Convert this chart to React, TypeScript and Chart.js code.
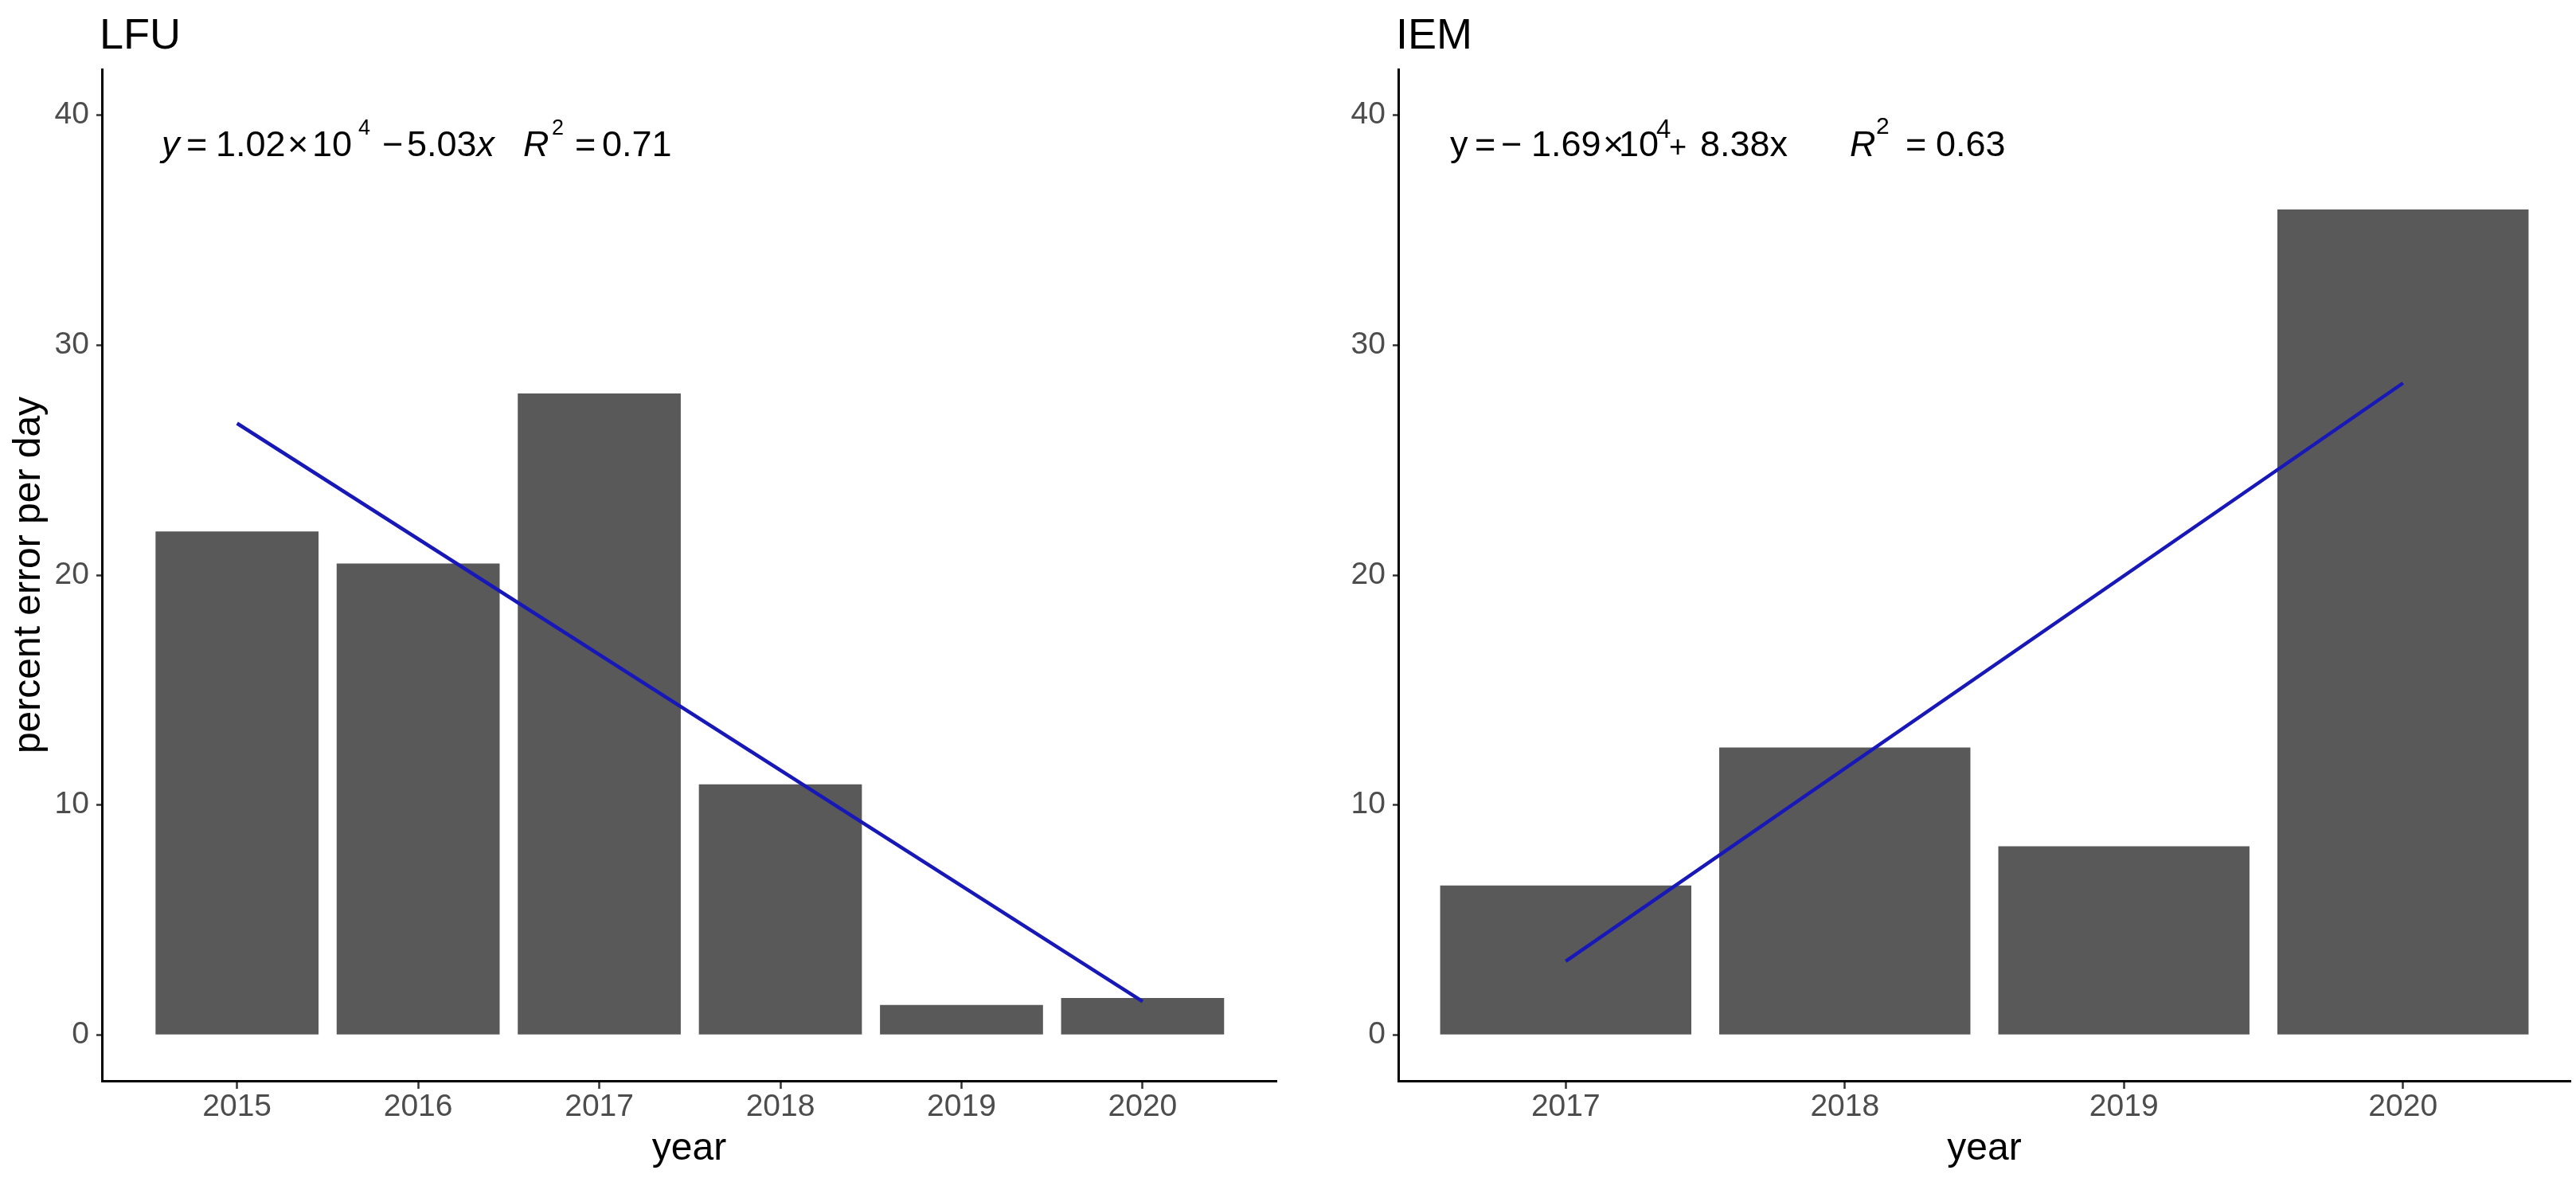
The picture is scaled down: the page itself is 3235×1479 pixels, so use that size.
import React, { useEffect, useRef } from 'react';
import { Chart, registerables } from 'chart.js';

Chart.register(...registerables);

const FONT = '"Liberation Sans", Arial, Helvetica, sans-serif';
const BAR_COLOR = '#595959';
const LINE_COLOR = '#1818B8';

// ---- data ----
const lfuYears = [2015, 2016, 2017, 2018, 2019, 2020];
const lfuValues = [21.9, 20.5, 27.9, 10.9, 1.3, 1.6];
const lfuFitYears = [2015, 2020];
const lfuFitValues = [26.6, 1.45];

const iemYears = [2017, 2018, 2019, 2020];
const iemValues = [6.5, 12.5, 8.2, 35.9];
const iemFitYears = [2017, 2020];
const iemFitValues = [3.2, 28.35];

const yTickValues = [0, 10, 20, 30, 40];
const yAxisTitle = 'percent error per day';
const xAxisTitle = 'year';

type Seg = { t: string; x?: number; y?: number; size?: number; it?: boolean };

const lfuEquation: Seg[] = [
  { t: 'y', x: 203, it: true },
  { t: '=', x: 234 },
  { t: '1.02', x: 271 },
  { t: '×', x: 361 },
  { t: '10', x: 392 },
  { t: '4', x: 450, size: 27, y: 169 },
  { t: '−', x: 480 },
  { t: '5.03', x: 511 },
  { t: 'x', it: true },
  { t: 'R', x: 657, it: true },
  { t: '2', x: 693, size: 27, y: 169 },
  { t: '=', x: 722 },
  { t: '0.71', x: 756 },
];

const iemEquation: Seg[] = [
  { t: 'y', x: 1821 },
  { t: '=', x: 1852 },
  { t: '−', x: 1885 },
  { t: '1.69', x: 1923 },
  { t: '×', x: 2013 },
  { t: '10', x: 2033 },
  { t: '4', x: 2080, size: 33, y: 173 },
  { t: '+', x: 2096, size: 38, y: 197 },
  { t: '8.38', x: 2135 },
  { t: 'x' },
  { t: 'R', x: 2323, it: true },
  { t: '2', x: 2356, size: 30, y: 168 },
  { t: '=', x: 2393 },
  { t: '0.63', x: 2431 },
];

type PanelSpec = {
  name: string;
  title: string;
  years: number[];
  values: number[];
  fitYears: number[];
  fitValues: number[];
  xMin: number;
  xMax: number;
  canvasLeft: number;
  canvasWidth: number;
  yAxisWidth: number;
  padRight: number;
  equation: Seg[];
  showYTitle: boolean;
};

const CANVAS_H = 1479;
const PAD_TOP = 87;
const X_AXIS_H = 122;

const panels: PanelSpec[] = [
  {
    name: 'lfu',
    title: 'LFU',
    years: lfuYears,
    values: lfuValues,
    fitYears: lfuFitYears,
    fitValues: lfuFitValues,
    xMin: 2015 - 0.746,
    xMax: 2020 + 0.739,
    canvasLeft: 0,
    canvasWidth: 1650,
    yAxisWidth: 128,
    padRight: 47,
    equation: lfuEquation,
    showYTitle: true,
  },
  {
    name: 'iem',
    title: 'IEM',
    years: iemYears,
    values: iemValues,
    fitYears: iemFitYears,
    fitValues: iemFitValues,
    xMin: 2017 - 0.6,
    xMax: 2020 + 0.6,
    canvasLeft: 1650,
    canvasWidth: 1585,
    yAxisWidth: 106,
    padRight: 7,
    equation: iemEquation,
    showYTitle: false,
  },
];

function textPlugin(p: PanelSpec) {
  return {
    id: 'annot_' + p.name,
    afterDraw(chart: any) {
      const ctx: CanvasRenderingContext2D = chart.ctx;
      const ca = chart.chartArea;
      ctx.save();
      ctx.fillStyle = '#000000';
      ctx.textBaseline = 'alphabetic';
      ctx.textAlign = 'left';
      // panel title
      ctx.font = `54px ${FONT}`;
      ctx.fillText(p.title, ca.left - 3, 60.5);
      // regression equation
      let cursor = 0;
      for (const s of p.equation) {
        const size = s.size ?? 45;
        ctx.font = `${s.it ? 'italic ' : ''}${size}px ${FONT}`;
        const x = s.x !== undefined ? s.x - p.canvasLeft : cursor;
        ctx.fillText(s.t, x, s.y ?? 196);
        cursor = x + ctx.measureText(s.t).width;
      }
      // x axis title
      ctx.font = `48px ${FONT}`;
      ctx.textAlign = 'center';
      ctx.fillText(xAxisTitle, (ca.left + ca.right) / 2, 1455.5);
      // y axis title
      if (p.showYTitle) {
        ctx.translate(50, (ca.top + ca.bottom) / 2);
        ctx.rotate(-Math.PI / 2);
        ctx.fillText(yAxisTitle, 0, 0);
      }
      ctx.restore();
    },
  };
}

function buildConfig(p: PanelSpec): any {
  const tickFont = { family: FONT, size: 39 };
  return {
    type: 'bar',
    data: {
      datasets: [
        {
          type: 'line',
          data: p.fitYears.map((x, i) => ({ x, y: p.fitValues[i] })),
          borderColor: LINE_COLOR,
          borderWidth: 4.5,
          pointRadius: 0,
          fill: false,
          tension: 0,
          order: 0,
        },
        {
          type: 'bar',
          data: p.years.map((x, i) => ({ x, y: p.values[i] })),
          backgroundColor: BAR_COLOR,
          borderWidth: 0,
          barPercentage: 0.9,
          categoryPercentage: 1,
          order: 1,
        },
      ],
    },
    options: {
      responsive: false,
      animation: false,
      events: [],
      layout: { padding: { left: 0, top: PAD_TOP, right: p.padRight, bottom: 0 } },
      plugins: {
        legend: { display: false },
        tooltip: { enabled: false },
        title: { display: false },
      },
      scales: {
        x: {
          type: 'linear',
          min: p.xMin,
          max: p.xMax,
          offset: false,
          afterBuildTicks: (s: any) => {
            s.ticks = p.years.map((v) => ({ value: v }));
          },
          afterFit: (s: any) => {
            s.height = X_AXIS_H;
            s.paddingLeft = 0;
            s.paddingRight = 0;
          },
          ticks: {
            callback: (v: any) => String(v),
            color: '#4D4D4D',
            font: tickFont,
            padding: 0,
            maxRotation: 0,
            minRotation: 0,
            autoSkip: false,
          },
          grid: {
            display: true,
            drawOnChartArea: false,
            drawTicks: true,
            tickLength: 10,
            tickWidth: 2.5,
            tickColor: '#333333',
            offset: false,
          },
          border: { display: true, color: '#000000', width: 3 },
        },
        y: {
          type: 'linear',
          min: -2,
          max: 42,
          afterBuildTicks: (s: any) => {
            s.ticks = yTickValues.map((v) => ({ value: v }));
          },
          afterFit: (s: any) => {
            s.width = p.yAxisWidth;
            s.paddingTop = 0;
            s.paddingBottom = 0;
          },
          ticks: {
            color: '#4D4D4D',
            font: tickFont,
            padding: 9,
            autoSkip: false,
          },
          grid: {
            display: true,
            drawOnChartArea: false,
            drawTicks: true,
            tickLength: 7,
            tickWidth: 2.5,
            tickColor: '#333333',
          },
          border: { display: true, color: '#000000', width: 3 },
        },
      },
    },
    plugins: [textPlugin(p)],
  };
}

function PanelChart({ spec }: { spec: PanelSpec }) {
  const ref = useRef<HTMLCanvasElement | null>(null);
  useEffect(() => {
    if (!ref.current) return;
    const chart = new Chart(ref.current, buildConfig(spec));
    return () => chart.destroy();
  }, [spec]);
  return (
    <canvas
      ref={ref}
      width={spec.canvasWidth}
      height={CANVAS_H}
      style={{
        position: 'absolute',
        left: spec.canvasLeft,
        top: 0,
        width: spec.canvasWidth,
        height: CANVAS_H,
      }}
    />
  );
}

export default function App() {
  return (
    <div
      style={{
        position: 'absolute',
        left: 0,
        top: 0,
        width: 3235,
        height: 1479,
        background: '#ffffff',
        overflow: 'hidden',
      }}
    >
      {panels.map((p) => (
        <PanelChart key={p.name} spec={p} />
      ))}
    </div>
  );
}
